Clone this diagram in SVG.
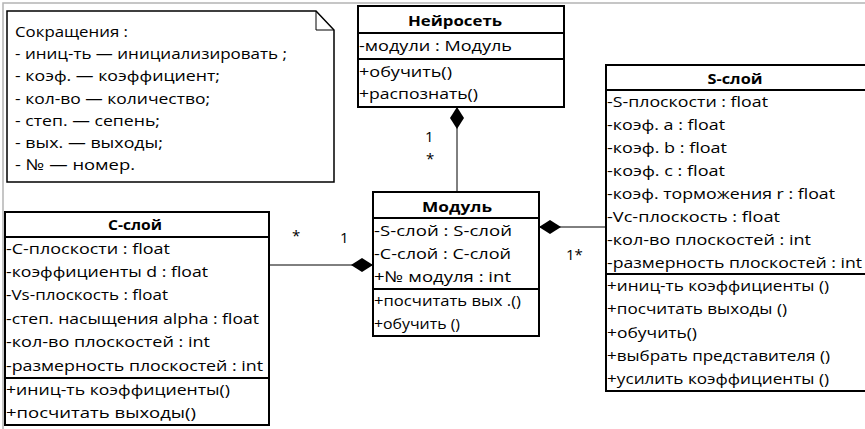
<svg xmlns="http://www.w3.org/2000/svg" width="865" height="429" viewBox="0 0 865 429">
  <style>
    text { font-family: "Open Sans", "Liberation Sans", sans-serif; font-size: 15px; fill: #000; }
    .title { font-weight: bold; text-anchor: middle; }
    .box { fill: #fff; stroke: #000; stroke-width: 2; }
    .div { stroke: #000; stroke-width: 2; }
    .link { stroke: #000; stroke-width: 1; fill: none; }
    .frame { stroke: #b4b4b4; stroke-width: 1.5; fill: none; }
  </style>
  <defs>
    <marker id="diamond" viewBox="0 0 22 14" refX="22" refY="7" markerWidth="22" markerHeight="14" markerUnits="userSpaceOnUse" orient="auto">
      <path d="M0,7 L11,0 L22,7 L11,14 Z" fill="#000"/>
    </marker>
  </defs>
  <rect width="865" height="429" fill="#fff"/>
  <!-- page frame -->
  <path class="frame" d="M3,429 V3 H865"/>

  <!-- abbreviations note -->
  <g id="note">
    <path d="M7,11 H316 L334,30 V182 H7 Z" fill="#fff" stroke="#000" stroke-width="1.5"/>
    <path d="M316,11 V30 H334" fill="none" stroke="#000" stroke-width="1"/>
    <text x="15" y="37" textLength="113" lengthAdjust="spacingAndGlyphs">Сокращения :</text>
    <text x="15" y="59" textLength="272" lengthAdjust="spacingAndGlyphs">- иниц-ть — инициализировать ;</text>
    <text x="15" y="81" textLength="205" lengthAdjust="spacingAndGlyphs">- коэф. — коэффициент;</text>
    <text x="15" y="104" textLength="195" lengthAdjust="spacingAndGlyphs">- кол-во — количество;</text>
    <text x="15" y="126" textLength="145" lengthAdjust="spacingAndGlyphs">- степ. — сепень;</text>
    <text x="15" y="148" textLength="148" lengthAdjust="spacingAndGlyphs">- вых. — выходы;</text>
    <text x="15" y="170" textLength="120" lengthAdjust="spacingAndGlyphs">- № — номер.</text>
  </g>

  <!-- connectors -->
  <g id="connectors">
    <path class="link" d="M457,192 V107" marker-end="url(#diamond)"/>
    <path class="link" d="M269,265 H373" marker-end="url(#diamond)"/>
    <path class="link" d="M606,227 H539" marker-end="url(#diamond)"/>
    <text x="425" y="142">1</text>
    <text x="426" y="164">*</text>
    <text x="292" y="241">*</text>
    <text x="340" y="243">1</text>
    <text x="566" y="260">1*</text>
  </g>

  <g id="neuronet">
    <rect class="box" x="358" y="6" width="206" height="101"/>
    <line class="div" x1="358" y1="33" x2="564" y2="33"/>
    <line class="div" x1="358" y1="59" x2="564" y2="59"/>
    <text class="title" x="455" y="26" textLength="94" lengthAdjust="spacingAndGlyphs">Нейросеть</text>
    <text x="359" y="51" textLength="153" lengthAdjust="spacingAndGlyphs">-модули : Модуль</text>
    <text x="359" y="77" textLength="93" lengthAdjust="spacingAndGlyphs">+обучить()</text>
    <text x="359" y="99" textLength="119" lengthAdjust="spacingAndGlyphs">+распознать()</text>
  </g>

  <g id="module">
    <rect class="box" x="373" y="192" width="166" height="144"/>
    <line class="div" x1="373" y1="218" x2="539" y2="218"/>
    <line class="div" x1="373" y1="289" x2="539" y2="289"/>
    <text class="title" x="457" y="212" textLength="70" lengthAdjust="spacingAndGlyphs">Модуль</text>
    <text x="374" y="236" textLength="138" lengthAdjust="spacingAndGlyphs">-S-слой : S-слой</text>
    <text x="374" y="259" textLength="137" lengthAdjust="spacingAndGlyphs">-С-слой : С-слой</text>
    <text x="374" y="282" textLength="137" lengthAdjust="spacingAndGlyphs">+№ модуля : int</text>
    <text x="374" y="306" textLength="147" lengthAdjust="spacingAndGlyphs">+посчитать вых .()</text>
    <text x="374" y="329" textLength="86" lengthAdjust="spacingAndGlyphs">+обучить ()</text>
  </g>

  <g id="s-layer">
    <rect class="box" x="606" y="65" width="262" height="326"/>
    <line class="div" x1="606" y1="90" x2="868" y2="90"/>
    <line class="div" x1="606" y1="274" x2="868" y2="274"/>
    <text class="title" x="735" y="84" textLength="55" lengthAdjust="spacingAndGlyphs">S-слой</text>
    <text x="607" y="107" textLength="161" lengthAdjust="spacingAndGlyphs">-S-плоскости : float</text>
    <text x="607" y="130" textLength="118" lengthAdjust="spacingAndGlyphs">-коэф. a : float</text>
    <text x="607" y="153" textLength="120" lengthAdjust="spacingAndGlyphs">-коэф. b : float</text>
    <text x="607" y="176" textLength="118" lengthAdjust="spacingAndGlyphs">-коэф. c : float</text>
    <text x="607" y="199" textLength="228" lengthAdjust="spacingAndGlyphs">-коэф. торможения r : float</text>
    <text x="607" y="222" textLength="173" lengthAdjust="spacingAndGlyphs">-Vc-плоскость : float</text>
    <text x="607" y="245" textLength="204" lengthAdjust="spacingAndGlyphs">-кол-во плоскостей : int</text>
    <text x="607" y="268" textLength="255" lengthAdjust="spacingAndGlyphs">-размерность плоскостей : int</text>
    <text x="607" y="291" textLength="222" lengthAdjust="spacingAndGlyphs">+иниц-ть коэффициенты ()</text>
    <text x="607" y="314" textLength="180" lengthAdjust="spacingAndGlyphs">+посчитать выходы ()</text>
    <text x="607" y="338" textLength="90" lengthAdjust="spacingAndGlyphs">+обучить()</text>
    <text x="607" y="361" textLength="223" lengthAdjust="spacingAndGlyphs">+выбрать представителя ()</text>
    <text x="607" y="384" textLength="222" lengthAdjust="spacingAndGlyphs">+усилить коэффициенты ()</text>
  </g>

  <g id="c-layer">
    <rect class="box" x="5" y="212" width="264" height="213"/>
    <line class="div" x1="5" y1="237" x2="269" y2="237"/>
    <line class="div" x1="5" y1="378" x2="269" y2="378"/>
    <text class="title" x="135" y="230" textLength="54" lengthAdjust="spacingAndGlyphs">С-слой</text>
    <text x="6" y="254" textLength="164" lengthAdjust="spacingAndGlyphs">-С-плоскости : float</text>
    <text x="6" y="277" textLength="202" lengthAdjust="spacingAndGlyphs">-коэффициенты  d : float</text>
    <text x="6" y="300" textLength="162" lengthAdjust="spacingAndGlyphs">-Vs-плоскость : float</text>
    <text x="6" y="324" textLength="253" lengthAdjust="spacingAndGlyphs">-степ. насыщения alpha : float</text>
    <text x="6" y="347" textLength="204" lengthAdjust="spacingAndGlyphs">-кол-во плоскостей : int</text>
    <text x="6" y="371" textLength="257" lengthAdjust="spacingAndGlyphs">-размерность плоскостей : int</text>
    <text x="6" y="395" textLength="224" lengthAdjust="spacingAndGlyphs">+иниц-ть коэффициенты()</text>
    <text x="6" y="418" textLength="190" lengthAdjust="spacingAndGlyphs">+посчитать выходы()</text>
  </g>
</svg>
